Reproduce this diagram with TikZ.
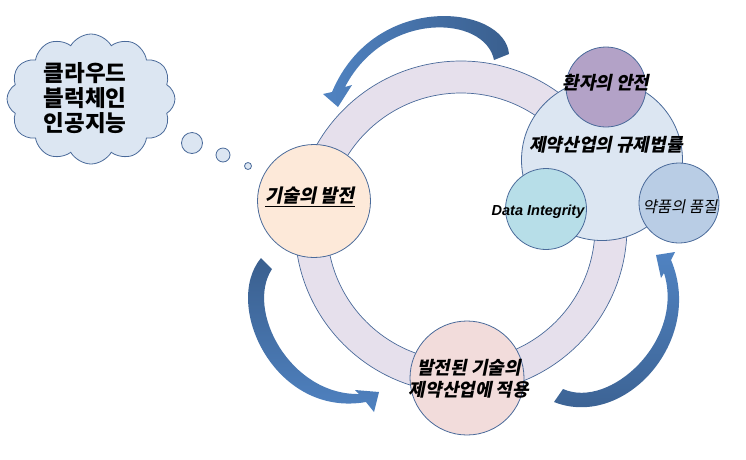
\documentclass[tikz,border=0pt]{standalone}
\usepackage{fontspec}
\setmainfont{Noto Sans CJK KR}
\newfontfamily\krit[FakeSlant=0.2]{Noto Sans CJK KR}
\newfontfamily\enit{Liberation Sans}
\usetikzlibrary{shapes.symbols}
\definecolor{ringfill}{HTML}{E6E0EC}
\definecolor{edge}{HTML}{4A6A9A}
\definecolor{cloudfill}{HTML}{DCE6F2}
\definecolor{bigfill}{HTML}{DCE6F2}
\definecolor{purplefill}{HTML}{B3A2C7}
\definecolor{tealfill}{HTML}{B7DEE8}
\definecolor{bluefill}{HTML}{B9CDE5}
\definecolor{peachfill}{HTML}{FDE9D9}
\definecolor{pinkfill}{HTML}{F2DCDB}
\definecolor{arrlight}{HTML}{5083C2}
\definecolor{arrdark}{HTML}{3A5F8E}
\begin{document}
\begin{tikzpicture}[x=1pt,y=-1pt,
  disc/.style={circle, draw=edge, line width=0.8pt, inner sep=0pt},
  lbl/.style={font=\krit\bfseries\fontsize{18}{22}\selectfont, align=center, inner sep=0pt},
  bubble/.style={disc, fill=cloudfill}
]
\useasboundingbox (0,0) rectangle (746,459);
% ring
\coordinate (rc) at (461,227);
\path[fill=ringfill, draw=edge, line width=0.7pt, even odd rule] (rc) circle[radius=166pt] (rc) circle[radius=134pt];
% circles
\node[disc, fill=peachfill, minimum size=113pt] (tech) at (314,201) {};
\node[disc, fill=pinkfill, minimum size=114pt] (apply) at (467,378) {};
\node[disc, fill=bigfill, minimum size=161pt] (reg) at (602,160) {};
\node[disc, fill=purplefill, minimum size=80pt] (safety) at (606,87) {};
\node[disc, fill=tealfill, minimum size=81pt] (di) at (546,209) {};
\node[disc, fill=bluefill, minimum size=80pt] (qual) at (679,203) {};
% labels
\node[lbl, font=\krit\bfseries\fontsize{18.5}{22}\selectfont] (techtxt) at (310,197) {\underline{기술의 발전}};
\node[lbl] (applytxt) at (469,379) {발전된 기술의\\제약산업에 적용};
\node[lbl] (regtxt) at (606,145) {제약산업의 규제법률};
\node[lbl] (safetxt) at (606,83) {환자의 안전};
\node[font=\enit\bfseries\itshape\fontsize{14.5}{17}\selectfont, inner sep=0pt] (ditxt) at (538,212) {Data Integrity};
\node[font=\krit\fontsize{15.5}{18}\selectfont, inner sep=0pt] (qualtxt) at (680,207) {약품의 품질};
% cloud
\node[cloud, cloud puffs=12, cloud puff arc=120, cloud ignores aspect, minimum width=168pt, minimum height=130pt, draw=edge, fill=cloudfill, line width=0.8pt] (cloud) at (91,99) {};
\node[font=\bfseries\fontsize{22.5}{25}\selectfont, align=center, inner sep=0pt] (cloudtxt) at (85,98) {클라우드\\블럭체인\\인공지능};
\node[bubble, minimum size=21pt] (b1) at (192,143) {};
\node[bubble, minimum size=14pt] (b2) at (223,155) {};
\node[bubble, minimum size=7pt] (b3) at (248,166) {};
% curved arrows
\shade[left color=arrlight, right color=arrdark] (494,60) -- (509,54) .. controls (505,5) and (375,-10) .. (332,92) -- (323,94) -- (338,107) -- (352,85) -- (345,87) .. controls (385,10) and (485,15) .. (494,60) -- cycle;
\shade[top color=arrdark, bottom color=arrlight] (261,258) -- (272,269) .. controls (245,310) and (290,395) .. (359,394) -- (355,390) -- (379,392) -- (374,412) -- (366,402) .. controls (275,418) and (222,305) .. (261,258) -- cycle;
\shade[top color=arrlight, bottom color=arrdark] (554,402) -- (563,389) .. controls (610,410) and (685,340) .. (664,273) -- (661,278) -- (656,255) -- (675,252) -- (671,260) .. controls (705,340) and (625,430) .. (554,402) -- cycle;
\end{tikzpicture}
\end{document}
